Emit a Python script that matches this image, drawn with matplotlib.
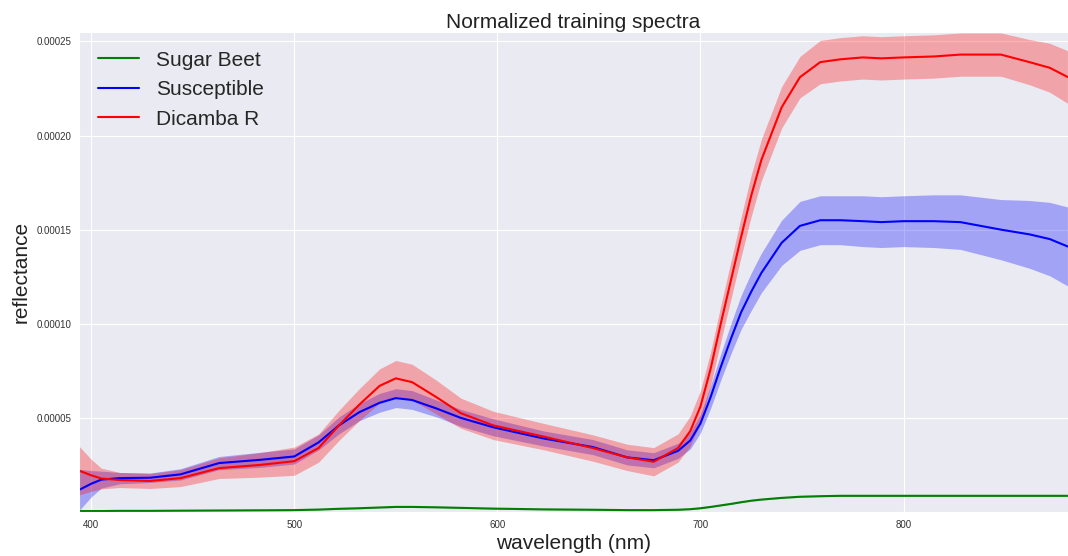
import numpy as np
import matplotlib
matplotlib.use("Agg")
import matplotlib.pyplot as plt
import seaborn as sns

# wavelengths (nm) where values were read
wl = [394, 400, 405, 414, 429, 444, 463, 483, 500, 512, 522, 532, 542, 550, 558,
      570, 582, 598, 623, 647, 664, 677, 689, 695, 700, 705, 710, 715, 720, 725,
      730, 740, 749, 759, 769, 780, 789, 800, 815, 828, 848, 862, 872, 881]

# means / stds in units of 1e-5
dicamba_mean = [2.2, 1.95, 1.78, 1.7, 1.65, 1.8, 2.33, 2.5, 2.7, 3.4, 4.6, 5.7, 6.7, 7.1, 6.9,
                6.1, 5.25, 4.6, 4.0, 3.4, 2.9, 2.67, 3.4, 4.3, 5.6, 7.6, 10.0, 12.3, 14.6, 16.8,
                18.7, 21.5, 23.1, 23.9, 24.05, 24.15, 24.1, 24.15, 24.2, 24.3, 24.3, 23.9, 23.6, 23.1]
dicamba_std = [1.3, 0.85, 0.55, 0.4, 0.4, 0.45, 0.55, 0.65, 0.75, 0.75, 0.8, 0.85, 0.9, 0.95, 0.95,
               0.9, 0.8, 0.75, 0.7, 0.7, 0.7, 0.75, 0.75, 0.8, 0.85, 0.9, 0.95, 1.0, 1.05, 1.1,
               1.1, 1.1, 1.1, 1.15, 1.15, 1.15, 1.15, 1.15, 1.15, 1.15, 1.15, 1.2, 1.3, 1.4]

susc_mean = [1.17, 1.5, 1.72, 1.8, 1.82, 2.0, 2.6, 2.77, 2.95, 3.7, 4.6, 5.3, 5.8, 6.05, 5.95,
             5.5, 5.0, 4.5, 3.9, 3.45, 2.9, 2.75, 3.25, 3.8, 4.7, 6.1, 7.7, 9.2, 10.6, 11.7,
             12.7, 14.3, 15.2, 15.5, 15.5, 15.45, 15.4, 15.45, 15.45, 15.4, 15.0, 14.75, 14.5, 14.1]
susc_std = [1.1, 0.7, 0.45, 0.3, 0.25, 0.3, 0.35, 0.4, 0.4, 0.4, 0.45, 0.45, 0.5, 0.5, 0.5,
            0.45, 0.45, 0.45, 0.4, 0.4, 0.4, 0.4, 0.4, 0.45, 0.5, 0.6, 0.7, 0.8, 0.9, 1.0,
            1.05, 1.2, 1.3, 1.3, 1.3, 1.35, 1.35, 1.35, 1.4, 1.45, 1.6, 1.8, 1.95, 2.1]

beet_mean = [0.05, 0.05, 0.05, 0.06, 0.06, 0.07, 0.08, 0.09, 0.1, 0.13, 0.17, 0.2, 0.24, 0.27, 0.27,
             0.25, 0.22, 0.18, 0.14, 0.12, 0.1, 0.1, 0.12, 0.15, 0.2, 0.27, 0.35, 0.43, 0.52, 0.6,
             0.66, 0.75, 0.81, 0.84, 0.86, 0.86, 0.86, 0.86, 0.86, 0.86, 0.86, 0.86, 0.86, 0.86]
beet_std = [0.03] * len(wl)

series = [
    ("Sugar Beet", beet_mean, beet_std, "green"),
    ("Susceptible", susc_mean, susc_std, "blue"),
    ("Dicamba R", dicamba_mean, dicamba_std, "red"),
]

sns.set_style("darkgrid")
plt.rcParams["font.family"] = ["Liberation Sans", "DejaVu Sans"]

fig = plt.figure(figsize=(10.68, 5.56), dpi=100)
ax = fig.add_axes([79 / 1068, 44 / 556, 989 / 1068, 480 / 556])

x = np.array(wl)
for name, m, s, c in series:
    m = np.array(m) * 1e-5
    s = np.array(s) * 1e-5
    ax.plot(x, m, color=c, lw=1.5, label=name)
    ax.fill_between(x, m - s, m + s, color=c, alpha=0.3, lw=0)

ax.set_xlim(394, 881)
ax.set_ylim(0, 0.000255)
ax.set_xticks([400, 500, 600, 700, 800])
ax.set_yticks([0.00005, 0.0001, 0.00015, 0.0002, 0.00025])
ax.set_yticklabels(["0.00005", "0.00010", "0.00015", "0.00020", "0.00025"])
ax.tick_params(labelsize=7, colors="#333333", pad=2)
ax.set_xlabel("wavelength (nm)", fontsize=15, color="#222222", labelpad=3)
ax.set_ylabel("reflectance", fontsize=15, color="#222222", labelpad=4)
ax.set_title("Normalized training spectra", fontsize=15, color="#222222", pad=3)
ax.legend(loc="upper left", fontsize=15, frameon=False, handlelength=2.0)

fig.savefig("out.png", dpi=100)
